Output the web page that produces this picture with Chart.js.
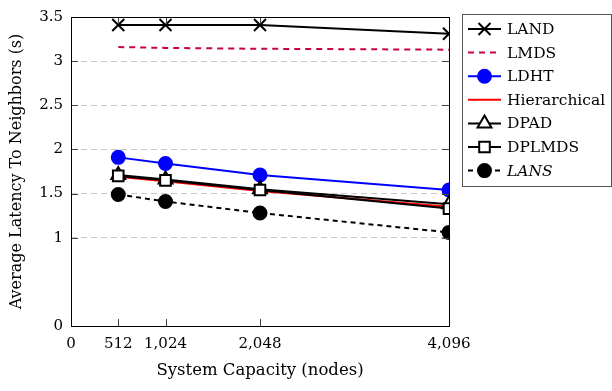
<!DOCTYPE html>
<html>
<head>
<meta charset="utf-8">
<script src="https://cdn.jsdelivr.net/npm/chart.js@4/dist/chart.umd.min.js"></script>
<style>
  html, body { margin: 0; padding: 0; background: #fff; }
  #wrap { width: 612px; height: 391px; }
</style>
</head>
<body>
<div id="wrap"><canvas id="latencia" width="612" height="391"></canvas></div>
<script>
const capacidades = [512, 1024, 2048, 4096];
const xTicks = [0, 512, 1024, 2048, 4096];
const yTicks = [0, 1, 1.5, 2, 2.5, 3, 3.5];

const land = [3.41, 3.41, 3.41, 3.31];
const lmds = [3.16, 3.15, 3.14, 3.13];
const ldht = [1.91, 1.84, 1.71, 1.54];
const hierarchical = [1.69, 1.64, 1.53, 1.35];
const dpad = [1.71, 1.66, 1.55, 1.38];
const dplmds = [1.70, 1.65, 1.54, 1.33];
const lans = [1.49, 1.41, 1.28, 1.06];

const FUENTE = "'DejaVu Serif', serif";

function puntos(valores) {
  return valores.map((v, i) => ({ x: capacidades[i], y: v }));
}

const series = [
  { label: 'LAND', data: land, color: '#000', dash: [], style: 'crossRot', radius: 8.5, fill: '#000' },
  { label: 'LMDS', data: lmds, color: '#c8004b', dash: [6, 5], style: false, radius: 0, fill: '#c8004b' },
  { label: 'LDHT', data: ldht, color: '#0000ff', dash: [], style: 'circle', radius: 6.5, fill: '#0000ff' },
  { label: 'Hierarchical', data: hierarchical, color: '#ff0000', dash: [], style: false, radius: 0, fill: '#ff0000' },
  { label: 'DPAD', data: dpad, color: '#000', dash: [], style: 'triangle', radius: 8, fill: '#fff' },
  { label: 'DPLMDS', data: dplmds, color: '#000', dash: [], style: 'rect', radius: 7.5, fill: '#fff' },
  { label: 'LANS', data: lans, color: '#000', dash: [5, 4], style: 'circle', radius: 6.5, fill: '#000', italic: true }
];

// marco, ticks hacia dentro y leyenda con borde
const marcoLeyenda = {
  id: 'marcoLeyenda',
  afterDraw(chart) {
    const ctx = chart.ctx;
    const a = chart.chartArea;
    const xs = chart.scales.x, ys = chart.scales.y;
    ctx.save();
    ctx.strokeStyle = '#444';
    ctx.lineWidth = 1;
    ctx.beginPath();
    xTicks.forEach(t => {
      const px = Math.round(xs.getPixelForValue(t)) + 0.5;
      ctx.moveTo(px, a.bottom); ctx.lineTo(px, a.bottom - 7);
      ctx.moveTo(px, a.top); ctx.lineTo(px, a.top + 7);
    });
    yTicks.forEach(t => {
      const py = Math.round(ys.getPixelForValue(t)) + 0.5;
      ctx.moveTo(a.left, py); ctx.lineTo(a.left + 7, py);
      ctx.moveTo(a.right, py); ctx.lineTo(a.right - 7, py);
    });
    ctx.stroke();
    ctx.strokeStyle = '#000';
    ctx.strokeRect(Math.round(a.left) + 0.5, Math.round(a.top) + 0.5,
      Math.round(a.right - a.left), Math.round(a.bottom - a.top));

    // leyenda
    const lx = 462, ly = 14, lw = 149, lh = 172;
    ctx.fillStyle = '#fff';
    ctx.fillRect(lx, ly, lw, lh);
    ctx.strokeStyle = '#555';
    ctx.strokeRect(lx + 0.5, ly + 0.5, lw, lh);
    series.forEach((s, i) => {
      const cy = 29 + i * 23.6;
      ctx.save();
      ctx.strokeStyle = s.color;
      ctx.lineWidth = 2;
      ctx.setLineDash(s.dash);
      ctx.beginPath();
      ctx.moveTo(468, cy); ctx.lineTo(501, cy);
      ctx.stroke();
      ctx.restore();
      if (s.style) {
        ctx.save();
        ctx.lineWidth = 2;
        ctx.strokeStyle = s.color;
        ctx.fillStyle = s.fill;
        Chart.helpers.drawPoint(ctx, { pointStyle: s.style, radius: s.radius, rotation: 0, borderWidth: 2 }, 484.5, cy);
        ctx.restore();
      }
      ctx.fillStyle = '#000';
      ctx.font = (s.italic ? 'italic ' : '') + '15.5px ' + FUENTE;
      ctx.textBaseline = 'middle';
      ctx.textAlign = 'left';
      ctx.fillText(s.label, 507, cy + 1);
    });
    ctx.restore();
  }
};

new Chart(document.getElementById('latencia'), {
  type: 'line',
  data: {
    datasets: series.map((s, i) => ({
      label: s.label,
      data: puntos(s.data),
      borderColor: s.color,
      backgroundColor: s.fill,
      borderWidth: 2,
      borderDash: s.dash,
      pointStyle: s.style,
      pointRadius: s.radius,
      pointBorderWidth: 2,
      pointBorderColor: s.color,
      pointBackgroundColor: s.fill,
      tension: 0,
      fill: false,
      order: 6 - i
    }))
  },
  options: {
    animation: false,
    responsive: false,
    devicePixelRatio: 1,
    layout: { padding: { top: 14, right: 163, left: 0, bottom: 0 } },
    plugins: {
      legend: { display: false },
      tooltip: { enabled: false }
    },
    scales: {
      x: {
        type: 'linear',
        min: 0,
        max: 4096,
        afterBuildTicks: (scale) => { scale.ticks = xTicks.map(v => ({ value: v })); },
        afterFit: (scale) => { scale.height = 65; },
        grid: { display: false, drawTicks: false },
        border: { display: false },
        ticks: {
          padding: 9,
          color: '#000',
          font: { family: FUENTE, size: 15 },
          maxRotation: 0,
          autoSkip: false,
          callback: (value) => value.toLocaleString('en-US')
        },
        title: {
          display: true,
          text: 'System Capacity (nodes)',
          color: '#000',
          font: { family: FUENTE, size: 16.5 },
          padding: { top: 0, bottom: 10 }
        }
      },
      y: {
        type: 'linear',
        min: 0,
        max: 3.5,
        afterBuildTicks: (scale) => { scale.ticks = yTicks.map(v => ({ value: v })); },
        afterFit: (scale) => { scale.width = 71; },
        grid: {
          drawTicks: false,
          lineWidth: 1,
          color: (ctx) => (ctx.tick && (ctx.tick.value === 0 || ctx.tick.value === 3.5)) ? 'rgba(0,0,0,0)' : '#c8c8c8'
        },
        border: { display: false, dash: [6, 4] },
        ticks: {
          padding: 8,
          color: '#000',
          font: { family: FUENTE, size: 15 },
          callback: (value) => String(value)
        },
        title: {
          display: true,
          text: 'Average Latency To Neighbors (s)',
          color: '#000',
          font: { family: FUENTE, size: 16 },
          padding: { top: 7, bottom: 0 }
        }
      }
    }
  },
  plugins: [marcoLeyenda]
});
</script>
</body>
</html>
